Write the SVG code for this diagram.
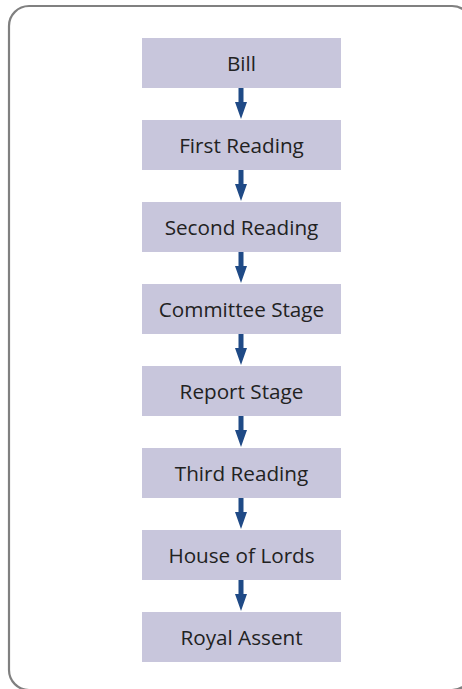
<svg xmlns="http://www.w3.org/2000/svg" width="462" height="689" viewBox="0 0 462 689">
  <defs>
    <style>
      .frame { fill: #ffffff; stroke: #808080; stroke-width: 2.2; }
      .step rect { fill: #c8c6dc; }
      .step text { font-family: "Open Sans", sans-serif; font-size: 20.7px; fill: #222222; text-anchor: middle; }
      .arrow { fill: #1f4a86; }
    </style>
    <symbol id="down" overflow="visible">
      <path class="arrow" d="M-2.5,0 H2.5 V14 H6 L0,31 L-6,14 H-2.5 Z"/>
    </symbol>
  </defs>

  <rect width="462" height="689" fill="#ffffff"/>
  <rect class="frame" x="9" y="6" width="463" height="684" rx="20" ry="20"/>

  <g id="connectors">
    <use href="#down" x="241" y="88"/>
    <use href="#down" x="241" y="170"/>
    <use href="#down" x="241" y="252"/>
    <use href="#down" x="241" y="334"/>
    <use href="#down" x="241" y="416"/>
    <use href="#down" x="241" y="498"/>
    <use href="#down" x="241" y="580"/>
  </g>

  <g id="bill" class="step"><rect x="142" y="38" width="199" height="50"/><text x="241.5" y="70.5">Bill</text></g>
  <g id="first-reading" class="step"><rect x="142" y="120" width="199" height="50"/><text x="241.5" y="152.5">First Reading</text></g>
  <g id="second-reading" class="step"><rect x="142" y="202" width="199" height="50"/><text x="241.5" y="234.5">Second Reading</text></g>
  <g id="committee-stage" class="step"><rect x="142" y="284" width="199" height="50"/><text x="241.5" y="316.5">Committee Stage</text></g>
  <g id="report-stage" class="step"><rect x="142" y="366" width="199" height="50"/><text x="241.5" y="398.5">Report Stage</text></g>
  <g id="third-reading" class="step"><rect x="142" y="448" width="199" height="50"/><text x="241.5" y="480.5">Third Reading</text></g>
  <g id="house-of-lords" class="step"><rect x="142" y="530" width="199" height="50"/><text x="241.5" y="562.5">House of Lords</text></g>
  <g id="royal-assent" class="step"><rect x="142" y="612" width="199" height="50"/><text x="241.5" y="644.5">Royal Assent</text></g>
</svg>
